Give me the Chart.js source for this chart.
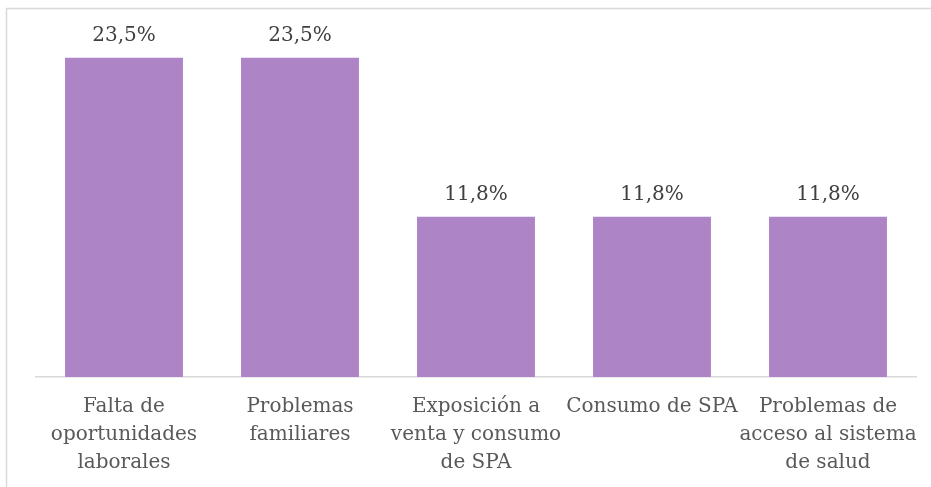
<!DOCTYPE html>
<html>
<head>
<meta charset="utf-8">
<script src="https://cdn.jsdelivr.net/npm/chart.js@4"></script>
<style>
  html, body { margin: 0; padding: 0; background: #ffffff; }
  canvas { display: block; }
</style>
</head>
<body>
<canvas id="c" width="931" height="487"></canvas>
<script>
const categories = [
  ["Falta de", "oportunidades", "laborales"],
  ["Problemas", "familiares"],
  ["Exposición a", "venta y consumo", "de SPA"],
  ["Consumo de SPA"],
  ["Problemas de", "acceso al sistema", "de salud"]
];
const values = [23.5, 23.5, 11.8, 11.8, 11.8];
const valueLabels = ["23,5%", "23,5%", "11,8%", "11,8%", "11,8%"];

const FONT = "'DejaVu Serif', serif";

const frame = {
  id: 'frame',
  beforeDraw(chart) {
    const ctx = chart.ctx;
    ctx.save();
    ctx.fillStyle = '#ffffff';
    ctx.fillRect(0, 0, chart.width, chart.height);
    ctx.strokeStyle = '#d9d9d9';
    ctx.lineWidth = 1.5;
    ctx.beginPath();
    ctx.moveTo(6.5, chart.height);
    ctx.lineTo(6.5, 8.5);
    ctx.lineTo(chart.width, 8.5);
    ctx.stroke();
    ctx.restore();
  }
};

const dataLabels = {
  id: 'dataLabels',
  afterDatasetsDraw(chart) {
    const ctx = chart.ctx;
    const meta = chart.getDatasetMeta(0);
    ctx.save();
    ctx.font = "20px " + FONT;
    ctx.fillStyle = '#404040';
    ctx.textAlign = 'center';
    ctx.textBaseline = 'alphabetic';
    meta.data.forEach((bar, i) => {
      ctx.fillText(valueLabels[i], bar.x, bar.y - 17);
    });
    ctx.restore();
  }
};

new Chart(document.getElementById('c'), {
  type: 'bar',
  data: {
    labels: categories,
    datasets: [{
      data: values,
      backgroundColor: '#ad84c6',
      borderWidth: 0,
      categoryPercentage: 1,
      barPercentage: 0.67
    }]
  },
  options: {
    responsive: false,
    animation: false,
    devicePixelRatio: 1,
    layout: { padding: { left: 36, right: 15, top: 37.5, bottom: -6 } },
    plugins: {
      legend: { display: false },
      tooltip: { enabled: false },
      title: { display: false }
    },
    scales: {
      y: {
        display: false,
        min: 0,
        max: 25
      },
      x: {
        grid: { display: false, drawTicks: false },
        border: { display: true, color: '#d9d9d9', width: 1.5 },
        afterFit(scale) {
          scale.paddingLeft = 0;
          scale.paddingRight = 0;
        },
        ticks: {
          color: '#595959',
          font: { family: FONT, size: 20, lineHeight: 1.4 },
          padding: 16,
          maxRotation: 0,
          autoSkip: false
        }
      }
    }
  },
  plugins: [frame, dataLabels]
});
</script>
</body>
</html>
